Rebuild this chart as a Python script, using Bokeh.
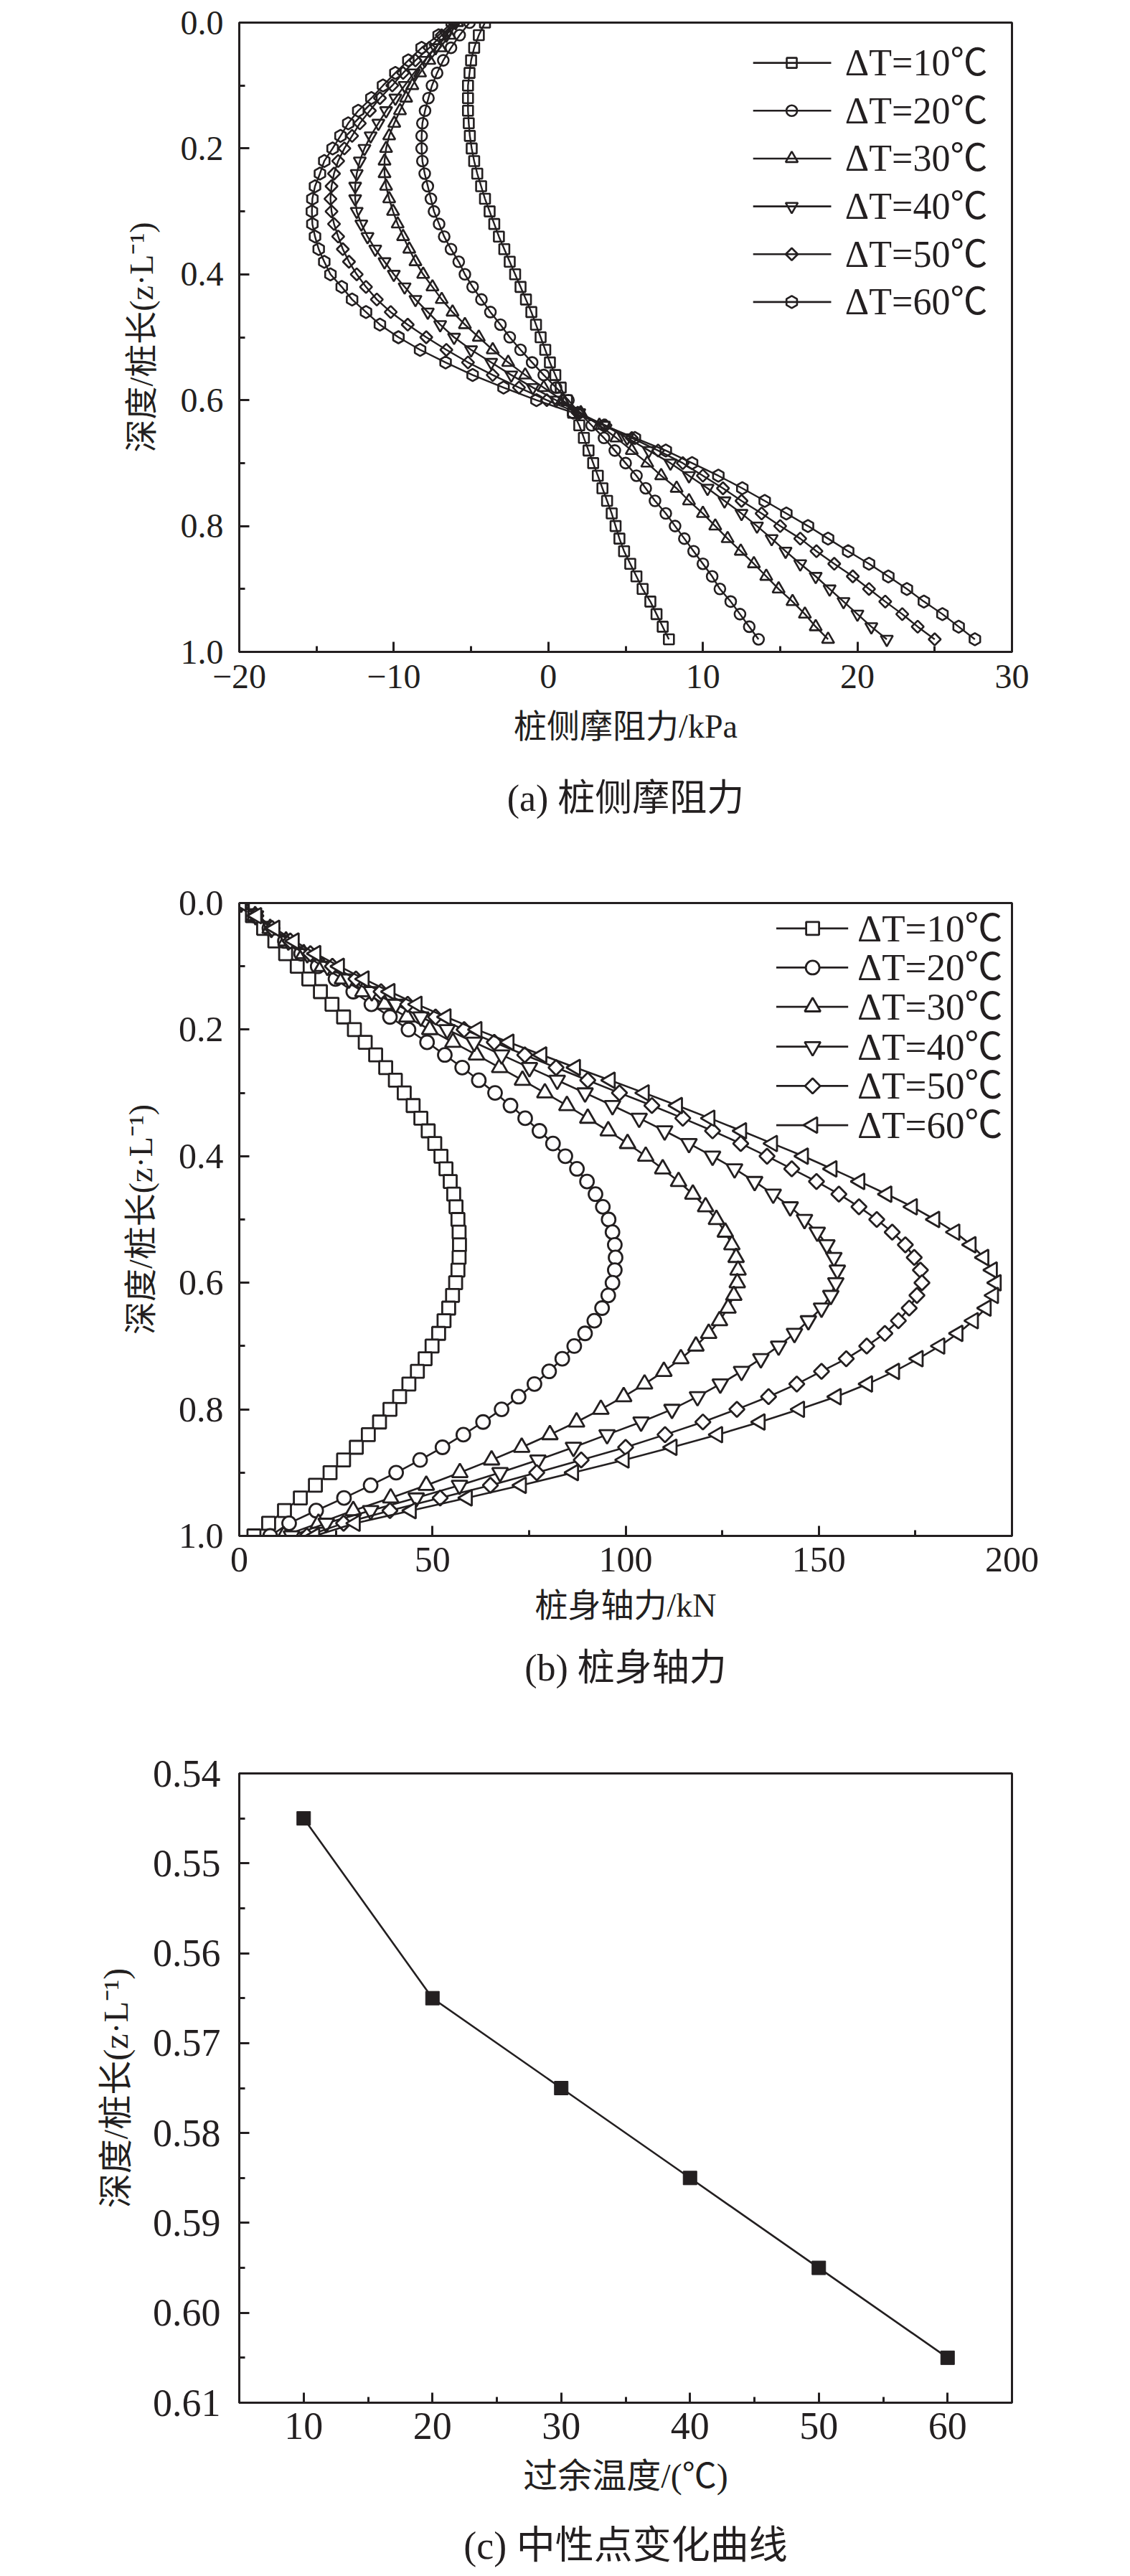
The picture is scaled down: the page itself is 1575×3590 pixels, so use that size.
import math
from bokeh.plotting import figure
from bokeh.layouts import column
from bokeh.models import Range1d, FixedTicker, Title, LinearAxis
from bokeh.embed import file_html
from bokeh.resources import INLINE
from bokeh.core.properties import value

INK = "#231f20"
FONT = "'Liberation Serif', 'Noto Sans CJK SC', serif"

labels = ["ΔT=10℃", "ΔT=20℃", "ΔT=30℃", "ΔT=40℃", "ΔT=50℃", "ΔT=60℃"]

# ---------------- (a) side friction ----------------
depth_a = [0.00, 0.02, 0.04, 0.06, 0.08, 0.10, 0.12, 0.14, 0.16, 0.18,
           0.20, 0.22, 0.24, 0.26, 0.28, 0.30, 0.32, 0.34, 0.36, 0.38,
           0.40, 0.42, 0.44, 0.46, 0.48, 0.50, 0.52, 0.54, 0.56, 0.58,
           0.60, 0.62, 0.64, 0.66, 0.68, 0.70, 0.72, 0.74, 0.76, 0.78,
           0.80, 0.82, 0.84, 0.86, 0.88, 0.90, 0.92, 0.94, 0.96, 0.98]
fa10 = [-4.1, -4.5, -4.8, -5.0, -5.1, -5.2, -5.2, -5.2, -5.15, -5.08,
        -4.96, -4.8, -4.6, -4.35, -4.1, -3.8, -3.5, -3.2, -2.85, -2.5,
        -2.15, -1.8, -1.45, -1.1, -0.8, -0.5, -0.2, 0.1, 0.45, 0.8,
        1.2, 1.6, 2.0, 2.3, 2.6, 2.9, 3.2, 3.5, 3.8, 4.1,
        4.35, 4.6, 4.9, 5.3, 5.7, 6.1, 6.6, 7.0, 7.4, 7.8]
fa20 = [-5.1, -5.74, -6.3, -6.8, -7.2, -7.53, -7.76, -7.98, -8.15, -8.2,
        -8.2, -8.15, -8.0, -7.8, -7.6, -7.4, -7.07, -6.74, -6.3, -5.8,
        -5.4, -4.9, -4.33, -3.75, -3.1, -2.5, -1.8, -1.05, -0.3, 0.5,
        1.3, 2.0, 2.8, 3.6, 4.3, 5.0, 5.7, 6.3, 6.9, 7.6,
        8.2, 8.8, 9.4, 10.0, 10.6, 11.1, 11.8, 12.4, 13.0, 13.6]
fa30 = [-5.9, -6.4, -7.0, -7.7, -8.3, -8.8, -9.2, -9.6, -9.97, -10.3,
        -10.5, -10.6, -10.6, -10.5, -10.3, -10.05, -9.75, -9.4, -9.0, -8.6,
        -8.1, -7.5, -6.9, -6.2, -5.4, -4.5, -3.6, -2.6, -1.5, -0.3,
        0.9, 2.1, 3.3, 4.4, 5.4, 6.4, 7.3, 8.3, 9.1, 10.0,
        10.8, 11.6, 12.45, 13.3, 14.1, 14.9, 15.8, 16.6, 17.3, 18.1]
fa40 = [-6.0, -6.6, -7.3, -8.0, -8.7, -9.3, -9.9, -10.5, -11.0, -11.5,
        -11.9, -12.2, -12.4, -12.5, -12.5, -12.4, -12.1, -11.7, -11.2, -10.6,
        -10.0, -9.3, -8.6, -7.8, -7.0, -6.1, -5.0, -3.7, -2.4, -1.0,
        0.5, 2.0, 3.6, 5.1, 6.5, 7.9, 9.1, 10.3, 11.4, 12.5,
        13.5, 14.45, 15.35, 16.3, 17.3, 18.2, 19.1, 20.0, 20.9, 21.9]
fa50 = [-6.1, -6.9, -7.7, -8.6, -9.4, -10.1, -10.9, -11.55, -12.2, -12.7,
        -13.2, -13.6, -13.87, -14.03, -14.1, -14.03, -13.87, -13.6, -13.3, -12.9,
        -12.4, -11.8, -11.1, -10.2, -9.1, -7.9, -6.6, -5.2, -3.6, -1.9,
        -0.1, 1.9, 3.7, 5.4, 7.1, 8.7, 10.0, 11.3, 12.5, 13.8,
        15.0, 16.3, 17.35, 18.5, 19.7, 20.75, 21.8, 22.9, 23.9, 25.0]
fa60 = [-6.25, -7.1, -8.2, -9.06, -9.9, -10.7, -11.45, -12.3, -12.95, -13.45,
        -13.96, -14.5, -14.78, -15.1, -15.27, -15.3, -15.27, -15.1, -14.86, -14.5,
        -14.1, -13.37, -12.7, -11.8, -10.9, -9.7, -8.3, -6.65, -4.9, -2.9,
        -0.77, 1.6, 3.6, 5.6, 7.6, 9.3, 11.0, 12.55, 14.0, 15.4,
        16.8, 18.1, 19.4, 20.75, 22.0, 23.2, 24.3, 25.5, 26.55, 27.6]
fa_x_ticks = [-20, -10, 0, 10, 20, 30]
fa_x_minor = [-15, -5, 5, 15, 25]

# ---------------- (b) axial force ----------------
depth_b = [0.00, 0.02, 0.04, 0.06, 0.08, 0.10, 0.12, 0.14, 0.16, 0.18,
           0.20, 0.22, 0.24, 0.26, 0.28, 0.30, 0.32, 0.34, 0.36, 0.38,
           0.40, 0.42, 0.44, 0.46, 0.48, 0.50, 0.52, 0.54, 0.56, 0.58,
           0.60, 0.62, 0.64, 0.66, 0.68, 0.70, 0.72, 0.74, 0.76, 0.78,
           0.80, 0.82, 0.84, 0.86, 0.88, 0.90, 0.92, 0.94, 0.96, 0.98, 1.00]
nb10 = [0.8, 3.4, 6.3, 9.2, 12.0, 15.0, 18.0, 21.0, 24.0, 27.0,
        29.8, 32.6, 35.3, 37.9, 40.4, 42.7, 45.0, 47.0, 48.9, 50.6,
        52.2, 53.5, 54.6, 55.5, 56.1, 56.6, 56.9, 57.0, 56.9, 56.6,
        56.0, 55.2, 54.2, 53.0, 51.6, 49.9, 48.1, 46.1, 43.9, 41.5,
        39.0, 36.3, 33.4, 30.3, 27.0, 23.5, 19.7, 15.8, 11.7, 7.6, 3.8]
nb20 = [0.5, 4.0, 7.8, 11.8, 16.0, 20.3, 24.9, 29.5, 34.2, 39.0,
        43.8, 48.6, 53.2, 57.7, 62.0, 66.2, 70.2, 74.0, 77.7, 81.2,
        84.4, 87.4, 90.0, 92.2, 94.1, 95.6, 96.6, 97.2, 97.4, 97.2,
        96.6, 95.5, 93.9, 91.9, 89.5, 86.7, 83.6, 80.2, 76.4, 72.3,
        67.9, 63.1, 58.0, 52.6, 46.8, 40.6, 34.0, 27.1, 19.9, 12.9, 8.0]
nb30 = [0.5, 4.1, 8.0, 12.1, 16.7, 21.5, 26.7, 32.0, 37.6, 43.4,
        49.3, 55.3, 61.4, 67.4, 73.3, 79.1, 84.8, 90.2, 95.5, 100.5,
        105.2, 109.6, 113.7, 117.4, 120.7, 123.5, 125.8, 127.5, 128.6, 129.1,
        128.9, 128.0, 126.5, 124.3, 121.5, 118.2, 114.3, 109.9, 104.9, 99.5,
        93.6, 87.3, 80.4, 73.1, 65.3, 57.1, 48.4, 39.2, 29.5, 20.5, 11.5]
nb40 = [0.5, 4.2, 8.3, 12.7, 17.6, 22.8, 28.4, 34.3, 40.5, 47.0,
        53.8, 60.8, 67.9, 75.1, 82.3, 89.5, 96.6, 103.5, 110.1, 116.4,
        122.5, 128.2, 133.4, 138.2, 142.6, 146.3, 149.6, 152.1, 153.9, 154.8,
        154.4, 153.1, 150.7, 147.3, 143.7, 139.6, 135.0, 130.0, 124.5, 118.6,
        112.0, 104.0, 95.2, 86.5, 77.3, 67.5, 57.0, 45.8, 34.0, 22.5, 13.5]
nb50 = [0.5, 4.3, 8.5, 13.2, 18.4, 24.1, 30.2, 36.7, 43.6, 50.8,
        58.2, 66.0, 73.9, 82.0, 90.2, 98.4, 106.8, 114.8, 122.5, 129.8,
        136.6, 143.0, 149.4, 155.2, 160.4, 165.0, 169.0, 172.4, 174.7, 176.3,
        176.7, 175.4, 173.4, 170.6, 167.1, 162.4, 157.1, 150.7, 144.3, 137.0,
        128.8, 120.0, 110.2, 100.0, 88.5, 77.0, 65.0, 52.0, 39.0, 27.0, 17.5]
nb60 = [0.5, 4.5, 9.2, 14.2, 19.8, 25.9, 32.3, 39.0, 46.0, 53.5,
        61.5, 69.8, 78.3, 87.0, 96.0, 104.8, 113.4, 121.8, 130.0, 138.0,
        146.0, 153.4, 160.6, 167.6, 174.2, 180.0, 185.2, 189.4, 192.7, 194.9,
        195.9, 195.2, 193.3, 190.0, 186.0, 181.3, 175.7, 169.6, 162.6, 154.5,
        145.0, 134.8, 123.8, 112.0, 99.6, 86.5, 73.0, 59.0, 44.5, 30.0, 19.5]
nb_x_ticks = [0, 50, 100, 150, 200]
nb_x_minor = [25, 75, 125, 175]

depth_ticks = [0.0, 0.2, 0.4, 0.6, 0.8, 1.0]
depth_minor = [0.1, 0.3, 0.5, 0.7, 0.9]

# ---------------- (c) neutral point ----------------
temps_c = [10, 20, 30, 40, 50, 60]
neutral_c = [0.545, 0.565, 0.575, 0.585, 0.595, 0.605]
c_x_ticks = [10, 20, 30, 40, 50, 60]
c_x_minor = [15, 25, 35, 45, 55]
c_y_ticks = [0.54, 0.55, 0.56, 0.57, 0.58, 0.59, 0.60, 0.61]
c_y_minor = [0.545, 0.555, 0.565, 0.575, 0.585, 0.595, 0.605]

Y_LABEL = "深度/桩长(z·L⁻¹)"

# legend key layout, in fractions of the plot frame (0..1)
KEY_A = dict(x0=0.665, x1=0.766, xm=0.715, xt=0.784,
             rows=[0.936, 0.860, 0.784, 0.708, 0.632, 0.556], font="52px")
KEY_B = dict(x0=0.695, x1=0.788, xm=0.742, xt=0.800,
             rows=[0.960, 0.898, 0.836, 0.773, 0.711, 0.649], font="53px")


def base_fig(height, top, bottom, x_range, y_range, tick_px, label_px):
    p = figure(width=1575, height=height, x_range=x_range, y_range=y_range,
               output_backend="svg", toolbar_location=None, title=None,
               min_border_left=333, min_border_right=165,
               min_border_top=top, min_border_bottom=bottom,
               background_fill_color="white", border_fill_color="white")
    p.grid.visible = False
    p.outline_line_color = INK
    p.outline_line_width = 3
    p.outline_line_alpha = 1.0
    p.extra_x_ranges = {"fx": Range1d(0, 1)}
    p.extra_y_ranges = {"fy": Range1d(0, 1)}
    for ax in (p.xaxis[0], p.yaxis[0]):
        ax.axis_line_color = INK
        ax.axis_line_width = 3
        ax.major_tick_line_color = INK
        ax.major_tick_line_width = 3
        ax.minor_tick_line_color = INK
        ax.minor_tick_line_width = 3
        ax.major_tick_in = 14
        ax.major_tick_out = 0
        ax.minor_tick_in = 8
        ax.minor_tick_out = 0
        ax.major_label_text_font = FONT
        ax.major_label_text_color = INK
        ax.major_label_text_font_size = tick_px
        ax.axis_label_text_font = FONT
        ax.axis_label_text_font_style = "normal"
        ax.axis_label_text_color = INK
        ax.axis_label_text_font_size = label_px
    return p


def add_caption(p, text, px, standoff):
    p.add_layout(Title(text=text, align="center", text_font=FONT,
                       text_font_size=px, text_font_style="normal",
                       text_color=INK, standoff=standoff), "below")


def add_caption_axis(p, text, px, standoff):
    # a tick-less, line-less axis used only to carry the panel caption
    cap = LinearAxis(ticker=FixedTicker(ticks=[]), axis_label=text,
                     axis_line_color=None, major_tick_in=0, major_tick_out=0,
                     minor_tick_in=0, minor_tick_out=0, major_label_standoff=0,
                     major_label_text_font_size="0px",
                     axis_label_standoff=standoff, axis_label_text_font=FONT,
                     axis_label_text_font_size=px, axis_label_text_font_style="normal",
                     axis_label_text_color=INK)
    p.add_layout(cap, "below")


def add_key(p, key, markers, line_w, mk_line_w, fill_alpha):
    for lab, (mk, sz, ang), yy in zip(labels, markers, key["rows"]):
        p.segment(x0=[key["x0"]], y0=[yy], x1=[key["x1"]], y1=[yy],
                  x_range_name="fx", y_range_name="fy",
                  line_color=INK, line_width=line_w)
        p.scatter([key["xm"]], [yy], marker=mk, size=sz, angle=ang,
                  x_range_name="fx", y_range_name="fy",
                  line_color=INK, line_width=mk_line_w,
                  fill_color="white", fill_alpha=fill_alpha)
        p.text([key["xt"]], [yy], text=[lab], x_range_name="fx", y_range_name="fy",
               text_font=value(FONT), text_font_size=value(key["font"]),
               text_color=INK, text_align="left", text_baseline="middle")


# ----- figure (a)
pa = base_fig(1200, 31, 292, Range1d(-20, 30), Range1d(1.0, 0.0), "48px", "46px")
pa.xaxis[0].ticker = FixedTicker(ticks=fa_x_ticks, minor_ticks=fa_x_minor)
pa.xaxis[0].major_label_overrides = {-20: "−20", -10: "−10", 0: "0", 10: "10", 20: "20", 30: "30"}
pa.yaxis[0].ticker = FixedTicker(ticks=depth_ticks, minor_ticks=depth_minor)
pa.yaxis[0].major_label_overrides = {t: f"{t:.1f}" for t in depth_ticks}
pa.xaxis[0].axis_label = "桩侧摩阻力/kPa"
pa.yaxis[0].axis_label = Y_LABEL
pa.xaxis[0].major_label_standoff = 18
pa.xaxis[0].axis_label_standoff = 25
pa.yaxis[0].major_label_standoff = 22
pa.yaxis[0].axis_label_standoff = 26

series_a = [fa10, fa20, fa30, fa40, fa50, fa60]
markers_a = [("square", 14, 0.0), ("circle", 15, 0.0), ("triangle", 17, 0.0),
             ("inverted_triangle", 17, 0.0), ("square", 12, math.pi / 4), ("hex", 17, math.pi / 2)]
for vals, (mk, sz, ang) in zip(series_a, markers_a):
    pa.line(vals, depth_a, line_color=INK, line_width=2.4)
    pa.scatter(vals, depth_a, marker=mk, size=sz, angle=ang,
               line_color=INK, line_width=2.6, fill_alpha=0.0)
add_key(pa, KEY_A, markers_a, 2.6, 2.6, 0.0)
add_caption(pa, "(a) 桩侧摩阻力", "52px", 82)

# ----- figure (b)
pb = base_fig(1200, 58, 260, Range1d(0, 200), Range1d(1.0, 0.0), "50px", "46px")
pb.xaxis[0].ticker = FixedTicker(ticks=nb_x_ticks, minor_ticks=nb_x_minor)
pb.yaxis[0].ticker = FixedTicker(ticks=depth_ticks, minor_ticks=depth_minor)
pb.yaxis[0].major_label_overrides = {t: f"{t:.1f}" for t in depth_ticks}
pb.xaxis[0].axis_label = "桩身轴力/kN"
pb.yaxis[0].axis_label = Y_LABEL
pb.xaxis[0].major_label_standoff = 16
pb.xaxis[0].axis_label_standoff = 19
pb.yaxis[0].major_label_standoff = 22
pb.yaxis[0].axis_label_standoff = 24

series_b = [nb10, nb20, nb30, nb40, nb50, nb60]
markers_b = [("square", 18, 0.0), ("circle", 19, 0.0), ("triangle", 22, 0.0),
             ("inverted_triangle", 22, 0.0), ("square", 15, math.pi / 4), ("triangle", 22, math.pi / 2)]
for vals, (mk, sz, ang) in zip(series_b, markers_b):
    pb.line(vals, depth_b, line_color=INK, line_width=2.6)
    pb.scatter(vals, depth_b, marker=mk, size=sz, angle=ang,
               line_color=INK, line_width=2.8, fill_color="white")
add_key(pb, KEY_B, markers_b, 2.8, 2.8, 1.0)
add_caption(pb, "(b) 桩身轴力", "52px", 56)

# ----- figure (c)
pc = base_fig(1190, 71, 242, Range1d(5, 65), Range1d(0.61, 0.54), "54px", "48px")
pc.xaxis[0].ticker = FixedTicker(ticks=c_x_ticks, minor_ticks=c_x_minor)
pc.yaxis[0].ticker = FixedTicker(ticks=c_y_ticks, minor_ticks=c_y_minor)
pc.yaxis[0].major_label_overrides = {t: f"{t:.2f}" for t in c_y_ticks}
pc.xaxis[0].axis_label = "过余温度/(℃)"
pc.yaxis[0].axis_label = Y_LABEL
pc.xaxis[0].major_label_standoff = 14
pc.xaxis[0].axis_label_standoff = 22
pc.yaxis[0].major_label_standoff = 26
pc.yaxis[0].axis_label_standoff = 22
pc.line(temps_c, neutral_c, line_color=INK, line_width=2.6)
pc.scatter(temps_c, neutral_c, marker="square", size=19, line_color=INK,
           fill_color=INK, line_width=1)
add_caption_axis(pc, "(c) 中性点变化曲线", "54px", 38)

layout = column(pa, pb, pc, spacing=0)
open("out.html", "w").write(file_html(layout, INLINE, title="chart"))
